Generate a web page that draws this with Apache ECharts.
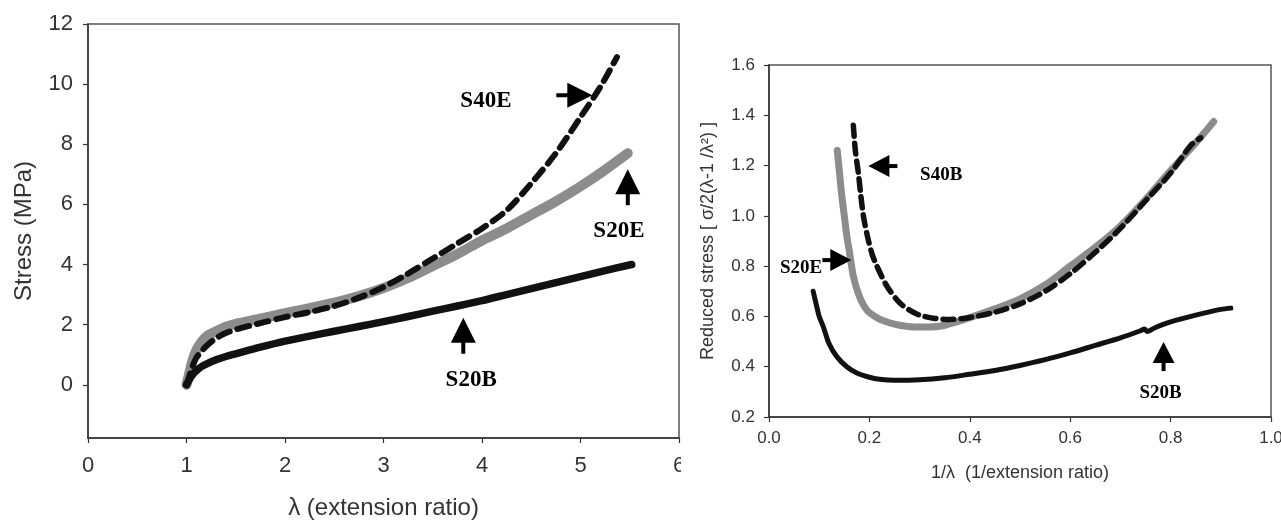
<!DOCTYPE html>
<html><head><meta charset="utf-8">
<script src="https://cdn.jsdelivr.net/npm/echarts@6/dist/echarts.min.js"></script>
<style>
html,body{margin:0;padding:0;background:#fff;}
#L{position:absolute;left:0;top:0;width:681px;height:520px;}
#R{position:absolute;left:681px;top:0;width:600px;height:520px;}
</style>
</head><body><div id="L"></div><div id="R"></div>
<script>
// ---------- Left panel: stress vs extension ratio ----------
const lamS20B = [1.0,1.03,1.06,1.1,1.15,1.2,1.3,1.4,1.5,1.75,2.0,2.25,2.5,2.75,3.0,3.25,3.5,3.75,4.0,4.25,4.5,4.75,5.0,5.25,5.52];
const sigS20B = [0,0.18,0.33,0.47,0.6,0.69,0.83,0.94,1.03,1.25,1.45,1.62,1.78,1.94,2.1,2.27,2.45,2.62,2.8,3.0,3.2,3.4,3.6,3.8,4.0];
const lamS20E = [1.0,1.03,1.06,1.1,1.15,1.2,1.3,1.4,1.5,1.75,2.0,2.25,2.5,2.75,3.0,3.25,3.5,3.75,4.0,4.25,4.5,4.75,5.0,5.25,5.48];
const sigS20E = [0,0.4,0.8,1.15,1.42,1.6,1.78,1.93,2.03,2.2,2.38,2.55,2.73,2.95,3.22,3.55,3.95,4.35,4.8,5.2,5.65,6.1,6.6,7.15,7.7];
const lamS40E = [1.0,1.03,1.06,1.1,1.15,1.2,1.3,1.4,1.5,1.75,2.0,2.25,2.5,2.75,3.0,3.25,3.5,3.75,4.0,4.25,4.5,4.75,5.0,5.2,5.37];
const sigS40E = [0,0.3,0.6,0.9,1.1,1.28,1.55,1.72,1.84,2.05,2.25,2.42,2.62,2.9,3.25,3.7,4.2,4.7,5.2,5.8,6.7,7.7,8.9,9.9,10.9];
const leftYTicks = [0,2,4,6,8,10,12];

// ---------- Right panel: reduced stress vs 1/lambda ----------
const invS20B = [0.088,0.095,0.1,0.108,0.12,0.135,0.155,0.175,0.2,0.22,0.25,0.3,0.35,0.4,0.45,0.5,0.55,0.6,0.65,0.7,0.74,0.748,0.753,0.77,0.8,0.85,0.9,0.92];
const redS20B = [0.70,0.64,0.60,0.56,0.49,0.44,0.40,0.375,0.358,0.35,0.346,0.348,0.356,0.37,0.385,0.405,0.428,0.455,0.485,0.515,0.543,0.55,0.54,0.556,0.578,0.605,0.628,0.633];
const invS20E = [0.136,0.14,0.145,0.15,0.155,0.16,0.168,0.18,0.195,0.215,0.235,0.26,0.29,0.32,0.35,0.4,0.45,0.5,0.55,0.6,0.65,0.7,0.75,0.8,0.85,0.886];
const redS20E = [1.26,1.18,1.08,1.0,0.92,0.86,0.76,0.68,0.625,0.595,0.578,0.565,0.558,0.558,0.565,0.595,0.63,0.67,0.725,0.8,0.875,0.96,1.065,1.18,1.29,1.375];
const invS40B = [0.168,0.172,0.178,0.183,0.188,0.196,0.205,0.215,0.235,0.26,0.28,0.3,0.33,0.36,0.4,0.45,0.5,0.55,0.6,0.65,0.7,0.75,0.8,0.84,0.86];
const redS40B = [1.36,1.26,1.17,1.08,1.0,0.92,0.85,0.8,0.72,0.655,0.625,0.605,0.592,0.588,0.596,0.617,0.65,0.7,0.77,0.855,0.95,1.06,1.17,1.28,1.31];

// annotation labels / arrows (data coordinates)
const leftNotes = [
  {text:'S40E', at:[4.04,9.43], tip:[5.12,9.63], dir:'right'},
  {text:'S20E', at:[5.39,5.1], tip:[5.48,7.17], dir:'up'},
  {text:'S20B', at:[3.89,0.17], tip:[3.81,2.23], dir:'up'}
];
const rightNotes = [
  {text:'S40B', at:[0.343,1.162], tip:[0.198,1.198], dir:'left'},
  {text:'S20E', at:[0.064,0.792], tip:[0.164,0.824], dir:'right'},
  {text:'S20B', at:[0.78,0.295], tip:[0.786,0.498], dir:'up'}
];

const zip = (a,b) => a.map((x,i)=>[x,b[i]]);
const TXT = '#333';
const FONT = '"Liberation Sans", Arial, sans-serif';
const GRAY = '#8c8c8c';
const INK = '#111';

function axisBase(fs){
  return {
    axisLine:{show:true, onZero:false, lineStyle:{color:'#333', width:1.5}},
    axisTick:{show:true, inside:false, length:5, lineStyle:{color:'#333', width:1.2}},
    splitLine:{show:false},
    axisLabel:{color:TXT, fontSize:fs, fontFamily:FONT},
    nameTextStyle:{color:TXT, fontFamily:FONT}
  };
}

// ----- left chart -----
const cL = echarts.init(document.getElementById('L'), null, {renderer:'canvas'});
const lx = axisBase(22), ly = axisBase(22);
cL.setOption({
  animation:false,
  grid:{left:88, top:24, width:591, height:414, show:true, borderColor:'#555', borderWidth:1.5, backgroundColor:'#fff', containLabel:false, outerBoundsMode:'none'},
  xAxis:Object.assign(lx,{type:'value', min:0, max:6, interval:1,
    name:'λ (extension ratio)', nameLocation:'middle', nameGap:58,
    nameTextStyle:{color:TXT, fontFamily:FONT, fontSize:24},
    axisLabel:Object.assign(lx.axisLabel,{margin:17})}),
  yAxis:Object.assign(ly,{type:'value', min:-1.77, max:12,
    name:'Stress (MPa)', nameLocation:'middle', nameGap:52,
    nameTextStyle:{color:TXT, fontFamily:FONT, fontSize:24},
    axisTick:Object.assign(ly.axisTick,{customValues:leftYTicks}),
    axisLabel:Object.assign(ly.axisLabel,{margin:15, customValues:leftYTicks})}),
  series:[
    {type:'line', name:'S20E', data:zip(lamS20E,sigS20E), showSymbol:false, smooth:0.3,
      lineStyle:{color:GRAY, width:10, cap:'round', join:'round'}},
    {type:'line', name:'S40E', data:zip(lamS40E,sigS40E), showSymbol:false, smooth:0.3,
      lineStyle:{color:INK, width:6, type:[12,8], cap:'round', join:'round'}},
    {type:'line', name:'S20B', data:zip(lamS20B,sigS20B), showSymbol:false, smooth:0.3,
      lineStyle:{color:INK, width:7.5, cap:'round', join:'round'}}
  ]
});

// ----- right chart -----
const cR = echarts.init(document.getElementById('R'), null, {renderer:'canvas'});
const rx = axisBase(17), ry = axisBase(17);
cR.setOption({
  animation:false,
  grid:{left:88, top:65, width:502, height:352, show:true, borderColor:'#555', borderWidth:1.5, backgroundColor:'#fff', containLabel:false, outerBoundsMode:'none'},
  xAxis:Object.assign(rx,{type:'value', min:0, max:1, interval:0.2,
    name:'1/λ  (1/extension ratio)', nameLocation:'middle', nameGap:47,
    nameTextStyle:{color:TXT, fontFamily:FONT, fontSize:18},
    axisLabel:Object.assign(rx.axisLabel,{margin:13, formatter:v=>v.toFixed(1)})}),
  yAxis:Object.assign(ry,{type:'value', min:0.2, max:1.6, interval:0.2,
    name:'Reduced stress [ σ/2(λ-1 /λ²) ]', nameLocation:'middle', nameGap:52,
    nameTextStyle:{color:TXT, fontFamily:FONT, fontSize:18},
    axisLabel:Object.assign(ry.axisLabel,{margin:14, formatter:v=>v.toFixed(1)})}),
  series:[
    {type:'line', name:'S20E', data:zip(invS20E,redS20E), showSymbol:false, smooth:0.3,
      lineStyle:{color:GRAY, width:7, cap:'round', join:'round'}},
    {type:'line', name:'S40B', data:zip(invS40B,redS40B), showSymbol:false, smooth:0.3,
      lineStyle:{color:INK, width:5.5, type:[11,7], cap:'round', join:'round'}},
    {type:'line', name:'S20B', data:zip(invS20B,redS20B), showSymbol:false, smooth:0.3,
      lineStyle:{color:INK, width:5, cap:'round', join:'round'}}
  ]
});

function arrow(tip, dir, hl, hw, sl, sw){
  const [tx,ty] = tip;
  let poly, rect;
  if(dir==='right'){ poly=[[tx,ty],[tx-hl,ty-hw/2],[tx-hl,ty+hw/2]]; rect={x:tx-hl-sl,y:ty-sw/2,width:sl+1,height:sw}; }
  else if(dir==='left'){ poly=[[tx,ty],[tx+hl,ty-hw/2],[tx+hl,ty+hw/2]]; rect={x:tx+hl-1,y:ty-sw/2,width:sl+1,height:sw}; }
  else { poly=[[tx,ty],[tx-hw/2,ty+hl],[tx+hw/2,ty+hl]]; rect={x:tx-sw/2,y:ty+hl-1,width:sw,height:sl+1}; }
  return [
    {type:'polygon', shape:{points:poly}, style:{fill:'#000'}, z:100},
    {type:'rect', shape:rect, style:{fill:'#000'}, z:100}
  ];
}
function notes(chart, list, fs, hl, hw, sl, sw){
  const g = [];
  list.forEach(n=>{
    const p = chart.convertToPixel({gridIndex:0}, n.at);
    const t = chart.convertToPixel({gridIndex:0}, n.tip);
    g.push({type:'text', x:p[0], y:p[1], z:101, style:{text:n.text, fill:'#000', font:'bold '+fs+'px "Liberation Serif", "Times New Roman", serif', textAlign:'center', textVerticalAlign:'middle'}});
    arrow(t, n.dir, hl, hw, sl, sw).forEach(e=>g.push(e));
  });
  chart.setOption({graphic:g});
}
notes(cL, leftNotes, 23, 25, 25, 11, 4);
notes(cR, rightNotes, 19, 21, 22, 8, 4);
</script>
</body></html>
